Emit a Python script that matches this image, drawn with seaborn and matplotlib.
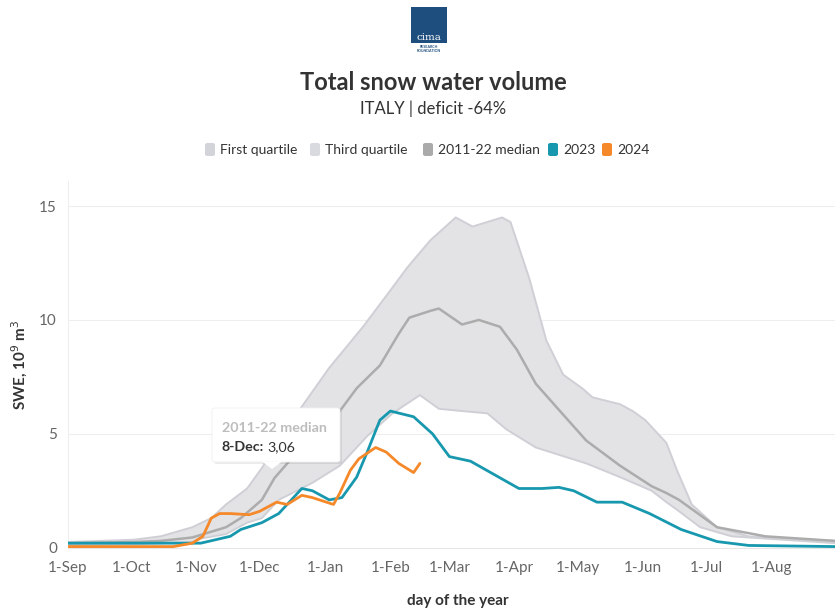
import numpy as np
import pandas as pd
import matplotlib
matplotlib.use("Agg")
import matplotlib.pyplot as plt
import seaborn as sns
from matplotlib.patches import FancyBboxPatch, Rectangle, Polygon

# ---------------- data (days since 1 Sep) ----------------
q3_days = [0, 31, 44, 59, 68, 75, 85, 92, 100, 111, 124, 140, 153, 161, 172, 184, 192, 206, 210,
           219, 227, 235, 244, 249, 262, 268, 274, 284, 289, 296, 308, 323, 364]
q3_vals = [0.25, 0.35, 0.5, 0.9, 1.3, 1.9, 2.6, 3.5, 4.7, 6.2, 7.9, 9.7, 11.3, 12.3, 13.5, 14.5, 14.1, 14.5, 14.3,
           11.8, 9.1, 7.6, 7.0, 6.6, 6.3, 6.0, 5.6, 4.6, 3.4, 1.9, 0.9, 0.5, 0.3]

q1_days = [0, 31, 59, 63, 75, 85, 92, 100, 116, 129, 142, 154, 167, 176, 187, 199, 208, 222,
           246, 262, 277, 284, 290, 300, 315, 364]
q1_vals = [0.1, 0.15, 0.25, 0.4, 0.6, 1.1, 1.3, 2.1, 2.85, 3.6, 4.9, 5.9, 6.7, 6.1, 6.0, 5.9, 5.2, 4.4,
           3.7, 3.1, 2.5, 2.0, 1.6, 0.9, 0.5, 0.2]

med_days = [0, 31, 44, 59, 75, 82, 92, 98, 105, 116, 129, 137, 148, 157, 162, 172, 176, 187, 195,
            205, 213, 222, 233, 246, 262, 277, 284, 290, 296, 308, 331, 364]
med_vals = [0.2, 0.25, 0.3, 0.45, 0.9, 1.3, 2.1, 3.06, 3.8, 4.7, 6.0, 7.0, 8.0, 9.4, 10.1, 10.4, 10.5, 9.8, 10.0,
            9.7, 8.7, 7.2, 6.05, 4.7, 3.6, 2.7, 2.4, 2.1, 1.7, 0.9, 0.5, 0.3]

y2023_days = [0, 59, 63, 77, 82, 92, 100, 111, 116, 124, 130, 137, 142, 148, 153, 164, 173, 181, 191,
              214, 225, 233, 240, 251, 263, 276, 291, 308, 323, 364]
y2023_vals = [0.2, 0.2, 0.2, 0.5, 0.8, 1.1, 1.5, 2.6, 2.5, 2.1, 2.2, 3.1, 4.2, 5.6, 6.0, 5.75, 5.0, 4.0, 3.8,
              2.6, 2.6, 2.65, 2.5, 2.0, 2.0, 1.5, 0.8, 0.27, 0.1, 0.05]

y2024_days = [0, 50, 59, 64, 68, 72, 77, 86, 91, 99, 104, 111, 116, 126, 129, 134, 138, 146, 151, 157, 164, 167]
y2024_vals = [0.05, 0.05, 0.2, 0.5, 1.3, 1.5, 1.5, 1.45, 1.6, 2.0, 1.9, 2.3, 2.2, 1.9, 2.4, 3.4, 3.9, 4.4, 4.2,
              3.7, 3.3, 3.7]

tick_days = [0, 30, 61, 91, 122, 153, 181, 212, 242, 273, 303, 334]
tick_labels = ["1-Sep", "1-Oct", "1-Nov", "1-Dec", "1-Jan", "1-Feb", "1-Mar", "1-Apr", "1-May",
               "1-Jun", "1-Jul", "1-Aug"]
y_ticks = [0, 5, 10, 15]

legend_labels = ["First quartile", "Third quartile", "2011-22 median", "2023", "2024"]

# ---------------- style ----------------
sns.set_theme(style="white")
plt.rcParams["font.family"] = ["Lato", "DejaVu Sans"]

C_BAND_FILL = "#e3e3e6"
C_BAND_EDGE = "#cfd0d6"
C_MED = "#acacac"
C_2023 = "#1898ae"
C_2024 = "#f5892a"

fig = plt.figure(figsize=(8.35, 6.11), dpi=100)
W, H = 835, 611
ax = fig.add_axes([68 / W, 1 - 550 / H, (835 - 68) / W, (550 - 181) / H])

# band
ax.fill(np.r_[q3_days, q1_days[::-1]], np.r_[q3_vals, q1_vals[::-1]],
        color=C_BAND_FILL, lw=0, zorder=1)

df_q1 = pd.DataFrame({"day": q1_days, "v": q1_vals})
df_q3 = pd.DataFrame({"day": q3_days, "v": q3_vals})
df_med = pd.DataFrame({"day": med_days, "v": med_vals})
df_23 = pd.DataFrame({"day": y2023_days, "v": y2023_vals})
df_24 = pd.DataFrame({"day": y2024_days, "v": y2024_vals})

kw = dict(solid_joinstyle="round", solid_capstyle="round")
sns.lineplot(data=df_q1, x="day", y="v", ax=ax, color=C_BAND_EDGE, lw=1.4, zorder=2, **kw)
sns.lineplot(data=df_q3, x="day", y="v", ax=ax, color=C_BAND_EDGE, lw=1.4, zorder=2, **kw)
sns.lineplot(data=df_med, x="day", y="v", ax=ax, color=C_MED, lw=1.8, zorder=3, **kw)
sns.lineplot(data=df_23, x="day", y="v", ax=ax, color=C_2023, lw=2.0, zorder=4, **kw)
sns.lineplot(data=df_24, x="day", y="v", ax=ax, color=C_2024, lw=2.0, zorder=5, **kw)

ax.set_xlim(0, 364)
ax.set_ylim(-0.1, 16.1)
ax.set_xticks(tick_days)
ax.set_xticklabels(tick_labels)
ax.set_yticks(y_ticks)
ax.tick_params(axis="both", length=0, labelsize=11, labelcolor="#666666")
ax.tick_params(axis="x", pad=8)
ax.tick_params(axis="y", pad=8)
for s in ax.spines.values():
    s.set_visible(False)
ax.grid(False)
for yv in y_ticks[1:]:
    ax.axhline(yv, color="#eeeeee", lw=0.8, zorder=0)
ax.axhline(0, color="#e6e6e6", lw=0.8, zorder=0)
ax.axvline(0, color="#eeeeee", lw=0.8, zorder=0)

ax.set_xlabel("day of the year", fontsize=11, fontweight="bold", color="#333333")
ax.set_ylabel("SWE, 10$^{9}$ m$^{3}$", fontsize=11, fontweight="bold", color="#333333")
ax.xaxis.set_label_coords((458 - 68) / 767, -(601 - 550) / 369)
ax.yaxis.set_label_coords((20 - 68) / 767, (550 - 365) / 369)
ax.xaxis.label.set_va("center")
ax.yaxis.label.set_va("center")

# ---------------- tooltip ----------------
def fx(px):
    return px / W
def fy(py):
    return 1 - py / H

shadow = FancyBboxPatch((fx(214), fy(464)), fx(128), (462 - 408) / H,
                        boxstyle="round,pad=0,rounding_size=0.004",
                        transform=fig.transFigure, fc="#00000014", ec="none", zorder=9)
tip = FancyBboxPatch((fx(212), fy(462)), fx(128), (462 - 408) / H,
                     boxstyle="round,pad=0,rounding_size=0.004",
                     transform=fig.transFigure, fc="white", ec="#f0f0f0", lw=0.6, zorder=10)
fig.patches.extend([shadow, tip])
tri = Polygon([[fx(262), fy(461.5)], [fx(282), fy(461.5)], [fx(272), fy(469)]],
              closed=True, transform=fig.transFigure, fc="white", ec="none", zorder=11)
fig.patches.append(tri)
fig.text(fx(222), fy(428), "2011-22 median", fontsize=10.3, fontweight="bold",
         color="#bdbdbd", va="center", ha="left", zorder=12)
fig.text(fx(222), fy(447), "8-Dec:", fontsize=10.3, fontweight="bold",
         color="#333333", va="center", ha="left", zorder=12)
fig.text(fx(267), fy(447), "3,06", fontsize=10.3, color="#333333", va="center", ha="left", zorder=12)

# ---------------- title / subtitle ----------------
fig.text(fx(433), fy(82), "Total snow water volume", fontsize=17, fontweight="bold",
         color="#333333", ha="center", va="center")
fig.text(fx(433), fy(109), "ITALY | deficit -64%", fontsize=12, color="#333333",
         ha="center", va="center")

# ---------------- logo ----------------
logo = Rectangle((fx(411), fy(43)), fx(36), (43 - 7) / H, transform=fig.transFigure,
                 fc="#1d4e7e", ec="none")
fig.patches.append(logo)
fig.text(fx(429), fy(38), "cima", fontsize=7.5, color="white", ha="center", va="center",
         family=["DejaVu Serif"])
fig.text(fx(429), fy(47), "RESEARCH", fontsize=2.6, color="#1d4e7e", ha="center", va="center",
         fontweight="bold")
fig.text(fx(429), fy(51), "FOUNDATION", fontsize=2.6, color="#1d4e7e", ha="center", va="center",
         fontweight="bold")

# ---------------- legend ----------------
leg_colors = ["#d3d4da", "#d9dadf", "#aaaaaa", C_2023, C_2024]
leg_x = [205, 310, 423, 548, 602]
for lbl, col, x0 in zip(legend_labels, leg_colors, leg_x):
    sq = FancyBboxPatch((fx(x0), fy(156)), fx(10), 13 / H,
                        boxstyle="round,pad=0,rounding_size=0.003",
                        transform=fig.transFigure, fc=col, ec="none")
    fig.patches.append(sq)
    fig.text(fx(x0 + 15), fy(149.5), lbl, fontsize=10, color="#333333", ha="left", va="center")

fig.savefig("out.png", dpi=100)
